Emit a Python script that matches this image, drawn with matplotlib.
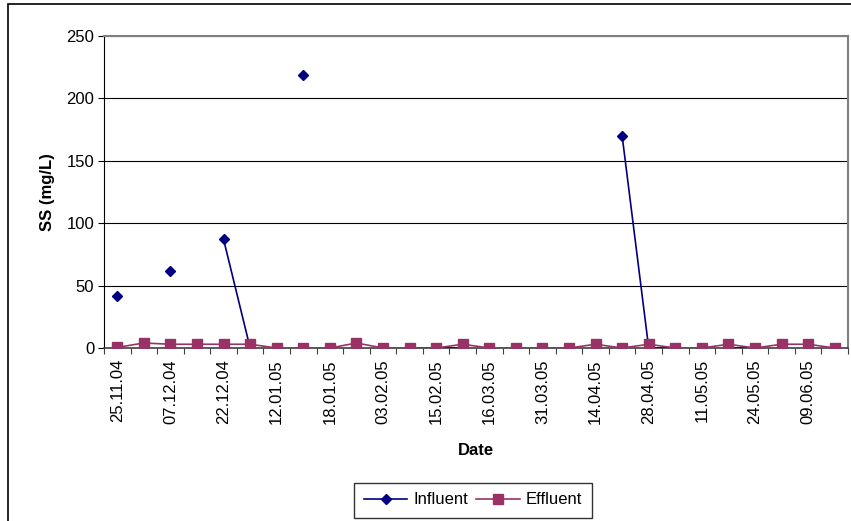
import numpy as np
import matplotlib
matplotlib.use("Agg")
import matplotlib.pyplot as plt
from matplotlib.patches import Rectangle

plt.rcParams['font.family'] = ['Liberation Sans', 'DejaVu Sans']

# 28 sampling days, only every other date is labelled on the axis
date_labels = ["25.11.04", "07.12.04", "22.12.04", "12.01.05", "18.01.05",
               "03.02.05", "15.02.05", "16.03.05", "31.03.05", "14.04.05",
               "28.04.05", "11.05.05", "24.05.05", "09.06.05"]
n_samples = 28

nan = np.nan
influent = [42, nan, 62, nan, 87, 0, nan, 219, nan, 0,
            nan, 0, 0, 0, nan, 0, nan, 0, nan, 170,
            0, 0, nan, 0, 0, nan, nan, nan]
effluent = [0.5, 4, 3, 3, 3, 3, 0, 0, 0, 4,
            0, 0, 0, 3, 0, 0, 0, 0, 3, 0,
            3, 0, 0, 3, 0, 3, 3, 0]

x = np.arange(n_samples)

fig = plt.figure(figsize=(8.51, 5.21), dpi=100)
ax = fig.add_axes([104 / 851, 1 - 348 / 521, 744 / 851, 312 / 521])

# outer chart frame (cropped on the right and bottom)
fig.patches.append(Rectangle((8 / 851, -0.1), 1.2, 1.1 - 4 / 521,
                             transform=fig.transFigure, fill=False,
                             edgecolor='black', linewidth=1.2))

ax.plot(x, influent, color='#000080', marker='D', markersize=5.5,
        linewidth=1.2, label='Influent', zorder=3)
ax.plot(x, effluent, color='#993366', marker='s', markersize=6.5,
        linewidth=1.2, label='Effluent', zorder=4)

ax.set_xlim(-0.5, n_samples - 0.5)
ax.set_ylim(0, 250)
ax.set_yticks(np.arange(0, 251, 50))
ax.yaxis.grid(True, color='black', linewidth=0.8)
ax.set_axisbelow(True)

# tick marks between categories, labels on every other category
ax.set_xticks(np.arange(-0.5, n_samples, 1.0))
ax.set_xticklabels([])
ax.set_xticks(np.arange(0, n_samples, 2), minor=True)
ax.set_xticklabels(date_labels, minor=True, rotation=90, fontsize=12)
ax.tick_params(axis='x', which='major', direction='out', length=4,
               width=0.8, color='#404040')
ax.tick_params(axis='x', which='minor', length=0, pad=8)
ax.tick_params(axis='y', direction='out', length=4, width=0.8,
               labelsize=12, pad=3)

for side in ['top', 'right']:
    ax.spines[side].set_color('#808080')
    ax.spines[side].set_linewidth(1.5)
ax.spines['left'].set_color('black')
ax.spines['bottom'].set_color('#404040')
ax.spines['bottom'].set_linewidth(1.2)

ax.set_xlabel('Date', fontsize=12, fontweight='bold', labelpad=14)
ax.set_ylabel('SS (mg/L)', fontsize=12, fontweight='bold', labelpad=8)

leg = fig.legend(loc='center', bbox_to_anchor=(473 / 851, 1 - 500 / 521),
                 ncol=2, fontsize=12, frameon=True, fancybox=False,
                 edgecolor='black', handlelength=2.6, handletextpad=0.35,
                 columnspacing=0.5, borderpad=0.6)
leg.get_frame().set_linewidth(1.0)

plt.savefig('out.png', dpi=100)
